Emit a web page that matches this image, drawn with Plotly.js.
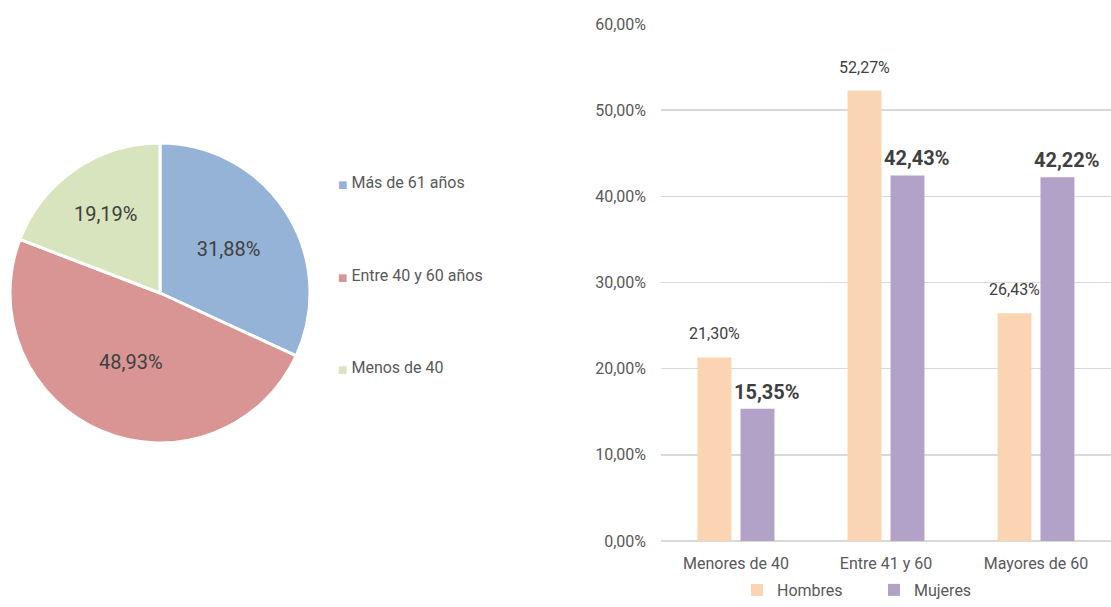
<!DOCTYPE html>
<html>
<head>
<meta charset="utf-8">
<script src="https://cdn.plot.ly/plotly-3.0.1.min.js"></script>
<style>
  body { margin: 0; background: #fff; }
  #chart { width: 1111px; height: 607px; }
</style>
</head>
<body>
<div id="chart"></div>
<script>
// Pie: distribución por edad
const pieLabels = ['Más de 61 años', 'Entre 40 y 60 años', 'Menos de 40'];
const pieValues = [31.88, 48.93, 19.19];
const pieColors = ['#95B3D7', '#D99594', '#D7E4BD'];

// Barras: por sexo y grupo de edad
const groups = ['Menores de 40', 'Entre 41 y 60', 'Mayores de 60'];
const hombres = [21.30, 52.27, 26.43];
const mujeres = [15.35, 42.43, 42.22];

const yTicks = [0, 10, 20, 30, 40, 50, 60];

const FONT = 'Roboto, "DejaVu Sans", sans-serif';

function fmt(v) {
    return v.toFixed(2).replace('.', ',') + '%';
}

const pieTrace = {
    type: 'pie',
    labels: pieLabels,
    values: pieValues,
    sort: false,
    direction: 'clockwise',
    rotation: 0,
    marker: { colors: pieColors, line: { color: '#ffffff', width: 3 } },
    texttemplate: '%{value:.2f}%',
    textposition: 'inside',
    insidetextorientation: 'horizontal',
    textfont: { family: FONT, size: 20, color: '#404040' },
    domain: { x: [10 / 1111, 310 / 1111], y: [164 / 607, 464 / 607] },
    showlegend: false,
    hoverinfo: 'label+percent'
};

const hombresTrace = {
    type: 'bar',
    name: 'Hombres',
    x: groups,
    y: hombres,
    marker: { color: '#FBD4B4' },
    xaxis: 'x',
    yaxis: 'y'
};

const mujeresTrace = {
    type: 'bar',
    name: 'Mujeres',
    x: groups,
    y: mujeres,
    marker: { color: '#B3A2C7' },
    xaxis: 'x',
    yaxis: 'y'
};

// value labels above bars
const annotations = [];
groups.forEach((g, i) => {
    annotations.push({
        x: g, y: hombres[i], xref: 'x', yref: 'y',
        xshift: -21.5, yshift: 12,
        text: fmt(hombres[i]),
        showarrow: false, yanchor: 'bottom',
        font: { family: FONT, size: 16, color: '#404040' }
    });
    annotations.push({
        x: g, y: mujeres[i], xref: 'x', yref: 'y',
        xshift: 31, yshift: 3,
        text: '<b>' + fmt(mujeres[i]) + '</b>',
        showarrow: false, yanchor: 'bottom',
        font: { family: FONT, size: 20, color: '#404040' }
    });
});

// pie legend (wide vertical spacing)
const legendY = [183, 275, 367];
pieLabels.forEach((lab, i) => {
    annotations.push({
        x: 336 / 1111, y: (607 - legendY[i]) / 607,
        xref: 'paper', yref: 'paper',
        xanchor: 'left', yanchor: 'middle',
        text: '<span style="color:' + pieColors[i] + ';font-size:10px">■</span> ' + lab,
        showarrow: false,
        font: { family: FONT, size: 16, color: '#595959' }
    });
});

const layout = {
    width: 1111,
    height: 607,
    margin: { t: 0, l: 0, r: 0, b: 0 },
    paper_bgcolor: '#ffffff',
    plot_bgcolor: '#ffffff',
    separators: ',.',
    font: { family: FONT, color: '#595959' },
    barmode: 'group',
    bargap: 0.427,
    bargroupgap: 0.21,
    xaxis: {
        domain: [661 / 1111, 1],
        range: [-0.5, 2.5],
        showgrid: false,
        showline: false,
        ticks: '',
        ticklabelstandoff: 11,
        tickfont: { family: FONT, size: 16, color: '#595959' },
        fixedrange: true
    },
    yaxis: {
        domain: [66 / 607, 583 / 607],
        range: [0, 60],
        tickvals: yTicks,
        ticktext: yTicks.map(fmt),
        showgrid: true,
        gridcolor: '#D9D9D9',
        gridwidth: 1.5,
        zeroline: true,
        zerolinecolor: '#D9D9D9',
        zerolinewidth: 1.5,
        showline: false,
        ticks: '',
        ticklabelstandoff: 14,
        tickfont: { family: FONT, size: 16, color: '#595959' },
        fixedrange: true
    },
    legend: {
        orientation: 'h',
        x: 737 / 1111,
        xanchor: 'left',
        y: 0,
        yanchor: 'bottom',
        entrywidth: 92,
        font: { family: FONT, size: 16, color: '#595959' },
        bgcolor: 'rgba(0,0,0,0)'
    },
    showlegend: true,
    annotations: annotations
};

Plotly.newPlot('chart', [pieTrace, hombresTrace, mujeresTrace], layout, { displayModeBar: false, staticPlot: true });
</script>
</body>
</html>
